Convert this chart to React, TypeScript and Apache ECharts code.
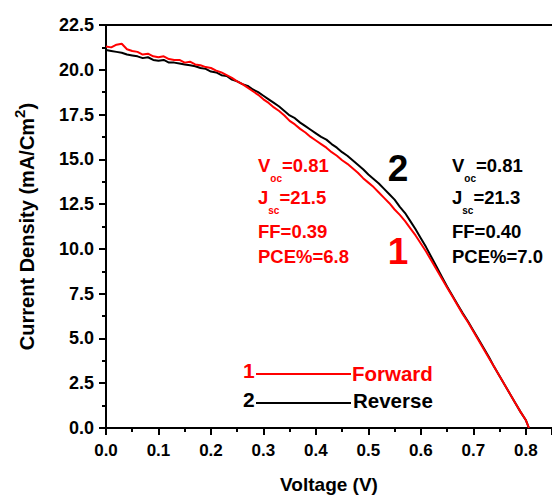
import React, { useEffect, useRef } from 'react';
import * as echarts from 'echarts';

const voltage = [
  0.00, 0.01, 0.02, 0.03, 0.04, 0.05, 0.06, 0.07, 0.08, 0.09,
  0.10, 0.11, 0.12, 0.13, 0.14, 0.15, 0.16, 0.17, 0.18, 0.19,
  0.20, 0.21, 0.22, 0.23, 0.24, 0.25, 0.26, 0.27, 0.28, 0.29,
  0.30, 0.31, 0.32, 0.33, 0.34, 0.35, 0.36, 0.37, 0.38, 0.39,
  0.40, 0.41, 0.42, 0.43, 0.44, 0.45, 0.46, 0.47, 0.48, 0.49,
  0.50, 0.51, 0.52, 0.53, 0.54, 0.55, 0.56, 0.57, 0.58, 0.59,
  0.60, 0.61, 0.62, 0.63, 0.64, 0.65, 0.66, 0.67, 0.68, 0.69,
  0.70, 0.71, 0.72, 0.73, 0.74, 0.75, 0.76, 0.77, 0.78, 0.79,
  0.80, 0.806,
];

const reverseJ = [
  21.10, 21.05, 21.00, 20.95, 20.85, 20.80, 20.75, 20.65, 20.70, 20.55,
  20.50, 20.55, 20.40, 20.40, 20.35, 20.30, 20.25, 20.20, 20.10, 20.05,
  19.90, 19.85, 19.70, 19.65, 19.45, 19.35, 19.20, 19.10, 18.90, 18.75,
  18.55, 18.35, 18.15, 17.95, 17.70, 17.45, 17.30, 17.05, 16.85, 16.65,
  16.45, 16.25, 16.10, 15.85, 15.65, 15.40, 15.20, 14.95, 14.70, 14.45,
  14.15, 13.90, 13.65, 13.35, 13.05, 12.75, 12.35, 12.00, 11.55, 11.10,
  10.60, 10.10, 9.55, 9.00, 8.45, 7.90, 7.40, 6.90, 6.40, 5.95,
  5.45, 4.95, 4.45, 3.95, 3.40, 2.90, 2.40, 1.90, 1.40, 0.90,
  0.45, 0.00,
];

const forwardJ = [
  21.30, 21.25, 21.40, 21.45, 21.15, 21.05, 21.00, 20.85, 20.90, 20.75,
  20.70, 20.75, 20.60, 20.55, 20.55, 20.40, 20.45, 20.30, 20.25, 20.15,
  20.10, 19.95, 19.85, 19.70, 19.55, 19.35, 19.20, 19.00, 18.80, 18.60,
  18.35, 18.15, 17.90, 17.70, 17.45, 17.15, 16.95, 16.70, 16.50, 16.25,
  16.05, 15.85, 15.65, 15.40, 15.20, 14.95, 14.75, 14.50, 14.25, 13.95,
  13.70, 13.45, 13.15, 12.85, 12.55, 12.20, 11.90, 11.55, 11.15, 10.75,
  10.30, 9.85, 9.35, 8.85, 8.35, 7.85, 7.35, 6.85, 6.35, 5.90,
  5.40, 4.90, 4.40, 3.90, 3.40, 2.90, 2.40, 1.90, 1.40, 0.90,
  0.45, 0.00,
];

const xTicks = ['0.0', '0.1', '0.2', '0.3', '0.4', '0.5', '0.6', '0.7', '0.8'];
const yTicks = ['0.0', '2.5', '5.0', '7.5', '10.0', '12.5', '15.0', '17.5', '20.0', '22.5'];

const forwardStats = { voc: '0.81', jsc: '21.5', ff: '0.39', pce: '6.8' };
const reverseStats = { voc: '0.81', jsc: '21.3', ff: '0.40', pce: '7.0' };

const FONT = "'Liberation Sans', Arial, sans-serif";
const RED = '#ff0000';
const BLACK = '#000000';

function statBlock(x: number, color: string, s: { voc: string; jsc: string; ff: string; pce: string }) {
  const rich = {
    m: { fontSize: 18.5, fontWeight: 'bold', fontFamily: FONT, color, lineHeight: 36, verticalAlign: 'middle' },
    s: { fontSize: 10, fontWeight: 'bold', fontFamily: FONT, color, lineHeight: 10, verticalAlign: 'bottom' },
  };
  const base = { fontFamily: FONT, fontWeight: 'bold', fontSize: 18.5, fill: color, verticalAlign: 'middle', align: 'left' };
  return [
    { type: 'text', x, y: 165.5, style: { ...base, text: `{m|V}{s|oc}{m|=${s.voc}}`, rich } },
    { type: 'text', x, y: 197.5, style: { ...base, text: `{m|J}{s|sc}{m|=${s.jsc}}`, rich } },
    { type: 'text', x, y: 231, style: { ...base, text: `FF=${s.ff}` } },
    { type: 'text', x, y: 256, style: { ...base, text: `PCE%=${s.pce}` } },
  ];
}

export default function App() {
  const ref = useRef<HTMLDivElement>(null);
  useEffect(() => {
    if (!ref.current) return;
    const chart = echarts.init(ref.current, undefined, { renderer: 'svg' });
    const xLabel = (v: number) => {
      const i = Math.round(v * 10);
      return Math.abs(v * 10 - i) < 1e-6 && xTicks[i] !== undefined ? xTicks[i] : '';
    };
    const yLabel = (v: number) => {
      const i = Math.round(v / 2.5);
      return yTicks[i] !== undefined ? yTicks[i] : '';
    };
    const axisText = { color: BLACK, fontFamily: FONT, fontWeight: 'bold', fontSize: 17 };
    chart.setOption({
      animation: false,
      backgroundColor: '#ffffff',
      grid: { left: 106, top: 25, width: 0.85 * 537.5, height: 405, containLabel: false },
      xAxis: [
        {
          type: 'value', min: 0, max: 0.85, interval: 0.1, position: 'bottom',
          axisLine: { show: true, onZero: false, lineStyle: { color: BLACK, width: 2 } },
          axisTick: { show: true, length: 7, lineStyle: { color: BLACK, width: 2 } },
          minorTick: { show: true, splitNumber: 2, length: 4, lineStyle: { color: BLACK, width: 2 } },
          splitLine: { show: false },
          axisLabel: { ...axisText, margin: 14, formatter: xLabel, showMaxLabel: false },
          name: 'Voltage (V)', nameLocation: 'middle', nameGap: 47,
          nameTextStyle: { color: BLACK, fontFamily: FONT, fontWeight: 'bold', fontSize: 19 },
        },
        {
          type: 'value', min: 0, max: 0.85, interval: 0.1, position: 'top',
          axisLine: { show: true, onZero: false, lineStyle: { color: BLACK, width: 2 } },
          axisTick: { show: false }, axisLabel: { show: false }, splitLine: { show: false },
        },
      ],
      yAxis: {
        type: 'value', min: 0, max: 22.5, interval: 2.5,
        axisLine: { show: true, onZero: false, lineStyle: { color: BLACK, width: 2 } },
        axisTick: { show: true, length: 7, lineStyle: { color: BLACK, width: 2 } },
        minorTick: { show: true, splitNumber: 2, length: 4, lineStyle: { color: BLACK, width: 2 } },
        splitLine: { show: false },
        axisLabel: { ...axisText, fontSize: 18, margin: 12, formatter: yLabel },
        name: 'Current Density (mA/Cm{sup|2})', nameLocation: 'middle', nameGap: 64,
        nameTextStyle: {
          color: BLACK, fontFamily: FONT, fontWeight: 'bold', fontSize: 20, lineHeight: 30, verticalAlign: 'bottom',
          rich: {
            sup: { fontSize: 15, fontWeight: 'bold', fontFamily: FONT, color: BLACK, lineHeight: 14, verticalAlign: 'top' },
          },
        },
      },
      series: [
        {
          name: 'Reverse', type: 'line', showSymbol: false, symbol: 'none',
          lineStyle: { color: BLACK, width: 2 }, itemStyle: { color: BLACK },
          data: voltage.map((v, i) => [v, reverseJ[i]]), z: 2,
        },
        {
          name: 'Forward', type: 'line', showSymbol: false, symbol: 'none',
          lineStyle: { color: RED, width: 2 }, itemStyle: { color: RED },
          data: voltage.map((v, i) => [v, forwardJ[i]]), z: 3,
        },
      ],
      graphic: [
        ...statBlock(258, RED, forwardStats),
        ...statBlock(452, BLACK, reverseStats),
        { type: 'text', x: 398, y: 168, style: { text: '2', fontFamily: FONT, fontWeight: 'bold', fontSize: 37, fill: BLACK, align: 'center', verticalAlign: 'middle' } },
        { type: 'text', x: 398, y: 251, style: { text: '1', fontFamily: FONT, fontWeight: 'bold', fontSize: 37, fill: RED, align: 'center', verticalAlign: 'middle' } },
        { type: 'text', x: 243, y: 370, style: { text: '1', fontFamily: FONT, fontWeight: 'bold', fontSize: 21, fill: RED, align: 'left', verticalAlign: 'middle' } },
        { type: 'line', shape: { x1: 256, y1: 374, x2: 351, y2: 374 }, style: { stroke: RED, lineWidth: 2 } },
        { type: 'text', x: 352, y: 373, style: { text: 'Forward', fontFamily: FONT, fontWeight: 'bold', fontSize: 20.5, fill: RED, align: 'left', verticalAlign: 'middle' } },
        { type: 'text', x: 243, y: 399, style: { text: '2', fontFamily: FONT, fontWeight: 'bold', fontSize: 21, fill: BLACK, align: 'left', verticalAlign: 'middle' } },
        { type: 'line', shape: { x1: 256, y1: 403, x2: 351, y2: 403 }, style: { stroke: BLACK, lineWidth: 2 } },
        { type: 'text', x: 353, y: 400, style: { text: 'Reverse', fontFamily: FONT, fontWeight: 'bold', fontSize: 20.5, fill: BLACK, align: 'left', verticalAlign: 'middle' } },
      ],
    });
    return () => chart.dispose();
  }, []);
  return <div ref={ref} style={{ position: 'absolute', left: 0, top: 0, width: 552, height: 499 }} />;
}
